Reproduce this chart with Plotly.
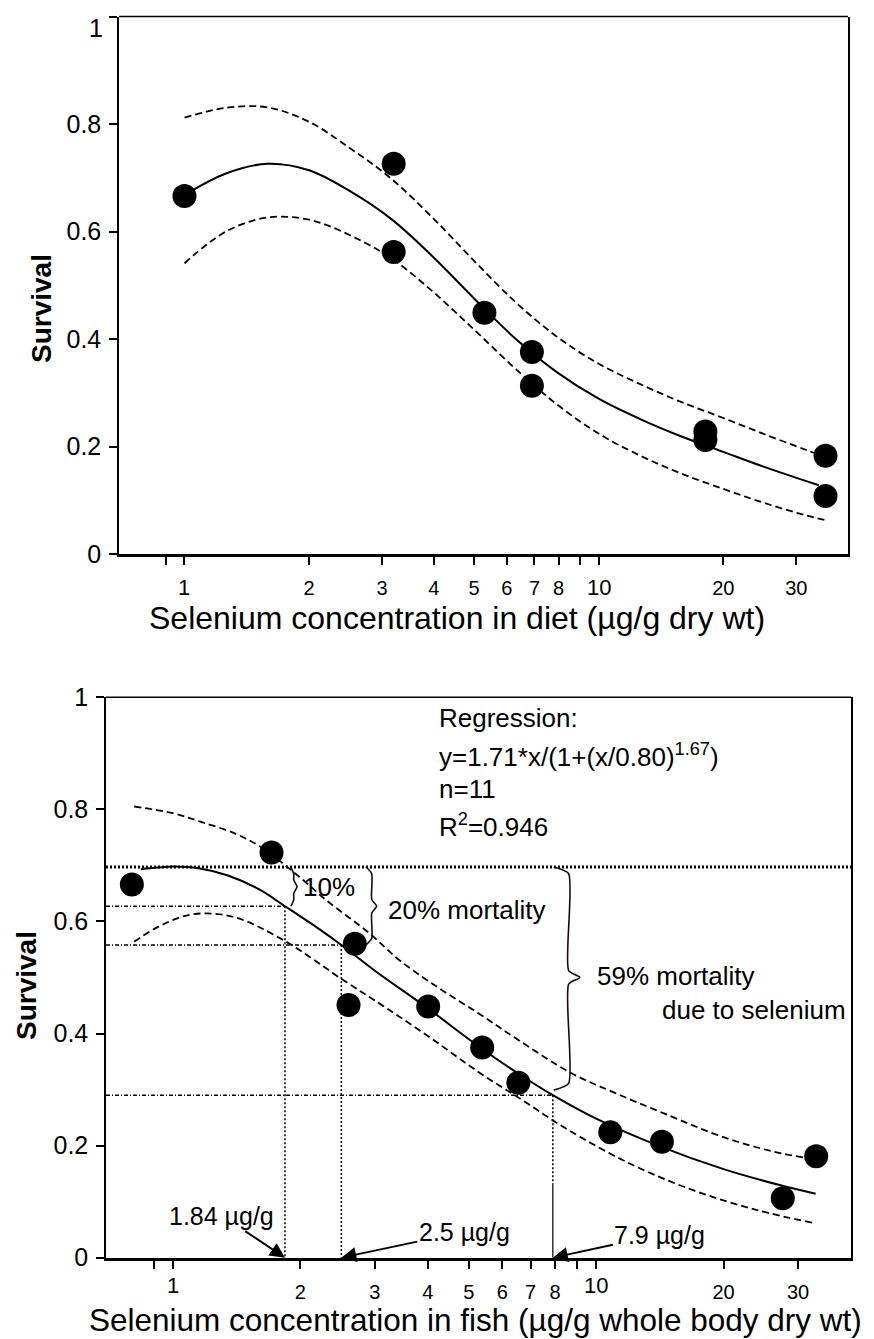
import math
import plotly.graph_objects as go

W, H = 874, 1339
OFF = 8  # page body margin in the browser
FONT = "Liberation Sans, Arial, Helvetica, sans-serif"

# ---------------- data: survival vs selenium in diet (top panel)
diet_x = [1.0, 3.2, 3.2, 5.3, 6.9, 6.9, 18.1, 18.1, 35.3, 35.3]
diet_y = [0.666, 0.726, 0.562, 0.449, 0.376, 0.313, 0.228, 0.212, 0.183, 0.108]

diet_fit_x = [1.0, 1.26, 1.585, 2.0, 2.51, 3.16, 3.98, 5.01, 6.31, 7.94, 10, 12.6, 15.8, 20, 25.1, 31.6, 34]
diet_fit_y = [0.668, 0.708, 0.726, 0.714, 0.675, 0.623, 0.553, 0.475, 0.400, 0.338, 0.289, 0.251, 0.219, 0.190, 0.162, 0.136, 0.128]
diet_upper_x = [1.0, 1.26, 1.585, 2.0, 2.51, 3.16, 3.98, 5.01, 6.31, 7.94, 10, 12.6, 15.8, 20, 25.1, 31.6, 35]
diet_upper_y = [0.812, 0.830, 0.831, 0.804, 0.755, 0.698, 0.625, 0.545, 0.468, 0.404, 0.354, 0.316, 0.283, 0.253, 0.223, 0.194, 0.181]
diet_lower_x = [1.0, 1.26, 1.585, 2.0, 2.51, 3.16, 3.98, 5.01, 6.31, 7.94, 10, 12.6, 15.8, 20, 25.1, 31.6, 35.7]
diet_lower_y = [0.541, 0.600, 0.626, 0.622, 0.593, 0.55, 0.488, 0.417, 0.344, 0.278, 0.224, 0.183, 0.150, 0.121, 0.095, 0.072, 0.062]

# ---------------- data: survival vs selenium in fish (bottom panel)
fish_x = [0.80, 1.71, 2.69, 2.60, 4.01, 5.38, 6.55, 10.8, 14.3, 27.6, 33.1]
fish_y = [0.666, 0.723, 0.560, 0.451, 0.448, 0.375, 0.312, 0.224, 0.207, 0.106, 0.181]

fish_fit_x = [0.84, 0.92, 1.0, 1.15, 1.35, 1.6, 1.84, 2.2, 2.5, 3.0, 4.0, 5.3, 6.5, 7.9, 10, 14, 20, 27, 33]
fish_fit_y = [0.693, 0.696, 0.698, 0.695, 0.682, 0.657, 0.627, 0.588, 0.558, 0.512, 0.445, 0.376, 0.33, 0.29, 0.248, 0.2, 0.158, 0.13, 0.114]
fish_upper_x = [0.81, 1.0, 1.16, 1.4, 1.61, 2.0, 2.31, 2.9, 3.44, 4.27, 5.3, 6.5, 8.7, 11, 14.4, 20, 26, 33]
fish_upper_y = [0.805, 0.793, 0.778, 0.757, 0.733, 0.678, 0.637, 0.58, 0.53, 0.48, 0.435, 0.39, 0.33, 0.295, 0.258, 0.215, 0.19, 0.175]
fish_lower_x = [0.81, 0.95, 1.12, 1.39, 1.82, 2.53, 3.2, 4.1, 5.3, 6.7, 8.5, 12, 17, 24, 33]
fish_lower_y = [0.564, 0.595, 0.613, 0.608, 0.567, 0.495, 0.445, 0.39, 0.33, 0.281, 0.23, 0.168, 0.12, 0.085, 0.061]

# effect levels
baseline_survival = 0.697
effect_conc = [1.84, 2.5, 7.9]
effect_surv = [0.627, 0.558, 0.29]
effect_labels = ["1.84 µg/g", "2.5 µg/g", "7.9 µg/g"]

# braces: (left, vertical, tip) x-positions, (top, bottom, tip) y
brace_x = [(1.90, 1.93, 1.965), (2.86, 2.95, 3.03), (7.94, 8.61, 9.15)]
brace_y = [(0.697, 0.627, 0.662), (0.697, 0.558, 0.627), (0.697, 0.299, 0.50)]

regression_lines = ["Regression:", "y=1.71*x/(1+(x/0.80)<sup>1.67</sup>)", "n=11", "R<sup>2</sup>=0.946"]

# axis settings
x_lo, x_hi = 0.695, 40.0
tick_vals = [2, 3, 4, 5, 6, 7, 8, 20, 30]
tick_text = ["2", "3", "4", "5", "6", "7", "8", "20", "30"]
big_tick_vals = [1, 10]          # labels drawn larger / lower, as in the original
minor_vals = [0.9, 1, 9, 10]
y_ticks = [0, 0.2, 0.4, 0.6, 0.8, 1]
y_text = ["0", "0.2", "0.4", "0.6", "0.8", "1"]


def px(v):
    return (v - OFF) / W


def py(v):
    return 1 - (v - OFF) / H


fig = go.Figure()


def curves(xa, ya, pts_x, pts_y, fx, fy, ux, uy, lx, ly):
    for bx, by in ((ux, uy), (lx, ly)):
        fig.add_trace(go.Scatter(x=bx, y=by, mode="lines", xaxis=xa, yaxis=ya,
                                 line=dict(color="black", width=1.8, dash="7px,4px", shape="spline")))
    fig.add_trace(go.Scatter(x=fx, y=fy, mode="lines", xaxis=xa, yaxis=ya,
                             line=dict(color="black", width=2, shape="spline")))
    fig.add_trace(go.Scatter(x=pts_x, y=pts_y, mode="markers", xaxis=xa, yaxis=ya,
                             marker=dict(color="black", size=24)))


# reference lines in bottom panel
fig.add_trace(go.Scatter(x=[x_lo, x_hi], y=[baseline_survival] * 2, mode="lines", xaxis="x2", yaxis="y2",
                         line=dict(color="black", width=3, dash="2px,2px")))
for i, (c, s) in enumerate(zip(effect_conc, effect_surv)):
    fig.add_trace(go.Scatter(x=[x_lo, c], y=[s, s], mode="lines", xaxis="x2", yaxis="y2",
                             line=dict(color="black", width=1.5, dash="4px,2px,1px,2px")))
    if i < 2:
        fig.add_trace(go.Scatter(x=[c, c], y=[s, 0], mode="lines", xaxis="x2", yaxis="y2",
                                 line=dict(color="black", width=1.5, dash="2px,2px")))
    else:
        fig.add_trace(go.Scatter(x=[c, c], y=[s, 0.13], mode="lines", xaxis="x2", yaxis="y2",
                                 line=dict(color="black", width=1.5, dash="2px,2px")))
        fig.add_trace(go.Scatter(x=[c, c], y=[0.13, 0], mode="lines", xaxis="x2", yaxis="y2",
                                 line=dict(color="black", width=1.2)))

curves("x", "y", diet_x, diet_y, diet_fit_x, diet_fit_y, diet_upper_x, diet_upper_y, diet_lower_x, diet_lower_y)
curves("x2", "y2", fish_x, fish_y, fish_fit_x, fish_fit_y, fish_upper_x, fish_upper_y, fish_lower_x, fish_lower_y)

# braces
for (xl, xv, xt), (yt, yb, ym) in zip(brace_x, brace_y):
    h = 0.012
    bx = [xl, xv, xv, xt, xv, xv, xl]
    by = [yt, yt - h, ym + h, ym, ym - h, yb + h, yb]
    fig.add_trace(go.Scatter(x=bx, y=by, mode="lines", xaxis="x2", yaxis="y2",
                             line=dict(color="#1a0808", width=1.6, shape="spline", smoothing=0.6)))

axis_common = dict(showgrid=False, zeroline=False, showline=True, linecolor="black", automargin=False,
                   ticks="outside", tickcolor="black", tickwidth=1.5, ticklen=8, ticklabeloverflow="allow")

xaxis_cfg = dict(axis_common, type="log", range=[math.log10(x_lo), math.log10(x_hi)],
                 tickvals=tick_vals, ticktext=tick_text, linewidth=3,
                 minor=dict(tickvals=minor_vals, ticks="outside", ticklen=8, tickwidth=1.5,
                            tickcolor="black", showgrid=False),
                 tickfont=dict(family=FONT, size=20, color="black"), ticklabelstandoff=6)
yaxis_cfg = dict(axis_common, range=[0, 1], linewidth=1.5, mirror=True,
                 tickfont=dict(family=FONT, size=25, color="black"), ticklabelstandoff=3)

fig.update_layout(
    template="none",
    width=W, height=H, margin=dict(l=0, r=0, t=0, b=0, autoexpand=False),
    paper_bgcolor="white", plot_bgcolor="white", showlegend=False,
    font=dict(family=FONT, color="black"),
    xaxis=dict(xaxis_cfg, domain=[px(119), px(848)], anchor="y"),
    yaxis=dict(yaxis_cfg, domain=[py(554), py(16.5)], anchor="x",
               tickvals=y_ticks[:-1], ticktext=y_text[:-1],
               minor=dict(tickvals=[1], ticks="outside", ticklen=8, tickwidth=1.5, tickcolor="black",
                          showgrid=False)),
    xaxis2=dict(xaxis_cfg, domain=[px(106), px(851)], anchor="y2"),
    yaxis2=dict(yaxis_cfg, domain=[py(1257.7), py(697.2)], anchor="x2",
                tickvals=y_ticks, ticktext=y_text),
)

# top borders of both panels
for xr, yr in (("x domain", "y domain"), ("x2 domain", "y2 domain")):
    fig.add_shape(type="line", xref=xr, yref=yr, x0=0, x1=1, y0=1, y1=1,
                  line=dict(color="black", width=1.5))

ann = []


def text(t, x, y, size, xanchor="center", **kw):
    d = dict(text=t, x=px(x), y=py(y), xref="paper", yref="paper", showarrow=False,
             xanchor=xanchor, yanchor="middle", font=dict(size=size))
    d.update(kw)
    ann.append(d)


# axis titles
text("Selenium concentration in diet (µg/g dry wt)", 457, 618, 32)
text("Selenium concentration in fish (µg/g whole body dry wt)", 475, 1320, 31.5)
text("<b>Survival</b>", 42, 309, 28, textangle=-90)
text("<b>Survival</b>", 27, 986, 28, textangle=-90)

# top value label of the upper y axis (drawn slightly below its tick, as in the original)
text(y_text[-1], 105, 28, 25, xanchor="right")

# larger x tick labels 1 and 10
for xa, yy in (("x", 588), ("x2", 1285)):
    for v in big_tick_vals:
        ann.append(dict(text=str(v), x=math.log10(v), y=py(yy), xref=xa, yref="paper", showarrow=False,
                        xanchor="center", yanchor="middle", font=dict(size=22)))

# regression text
for t, yy in zip(regression_lines, [718, 755, 789, 825]):
    text(t, 437, yy, 26, xanchor="left")

notes = [("10%", 301, 887), ("20% mortality", 386, 910), ("59% mortality", 595, 976),
         ("due to selenium", 660, 1010)]
for t, xx, yy in notes:
    text(t, xx, yy, 26, xanchor="left")

# arrows to concentrations
offsets = [(-63, -42), (123, -26), (107, -23)]
for c, lab, (ax, ay) in zip(effect_conc, effect_labels, offsets):
    ann.append(dict(text=lab, x=math.log10(c), y=0, xref="x2", yref="y2", showarrow=True,
                    ax=ax, ay=ay, arrowhead=2, arrowsize=1.5, arrowwidth=2, arrowcolor="black",
                    xanchor="center", yanchor="middle", font=dict(size=25)))

fig.update_layout(annotations=ann)

fig.write_html("out.html")
